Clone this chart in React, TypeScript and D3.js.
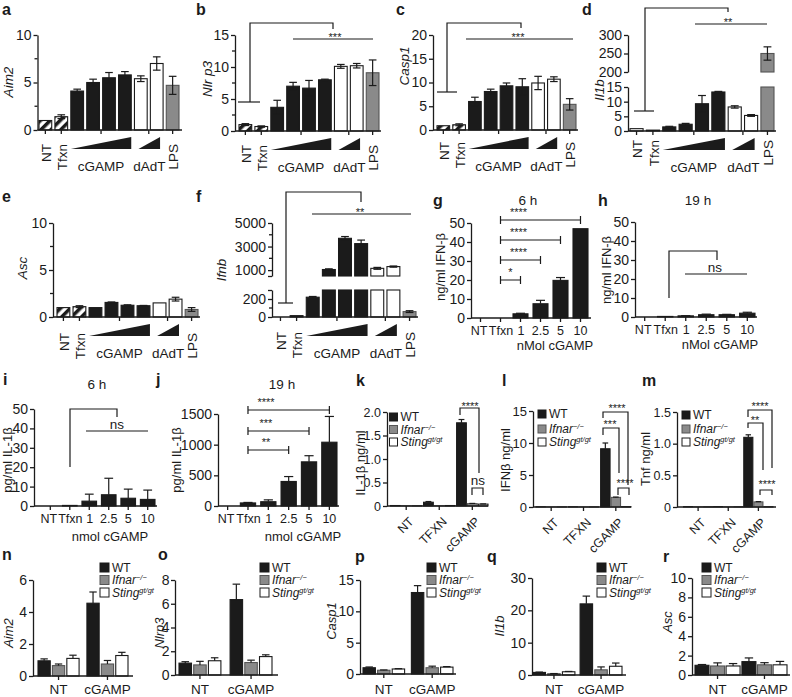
import React, { useEffect, useRef } from "react";
import * as d3 from "d3";

// ---------------- data ----------------
const doseCategories = ["NT", "Tfxn", "cGAMP 1", "cGAMP 2", "cGAMP 3", "cGAMP 4", "dAdT 1", "dAdT 2", "LPS"];
const doseFillsHatched = ["hatch", "hatch", "black", "black", "black", "black", "white", "white", "gray"];
const doseFillsPlain = ["white", "black", "black", "black", "black", "black", "white", "white", "gray"];

const aim2Values = [1.0, 1.4, 4.1, 5.0, 5.5, 5.8, 5.4, 7.0, 4.7];
const aim2Errors = [0, 0.2, 0.2, 0.35, 0.55, 0.35, 0.3, 0.7, 0.95];
const nlrp3Values = [1.0, 0.7, 3.7, 7.0, 6.7, 8.0, 10.1, 10.2, 9.1];
const nlrp3Errors = [0.15, 0.1, 1.1, 0.6, 1.2, 0.1, 0.3, 0.35, 2.0];
const casp1Values = [0.9, 1.1, 6.0, 8.1, 9.3, 9.1, 9.9, 10.7, 5.4];
const casp1Errors = [0, 0.2, 0.9, 0.5, 0.6, 1.7, 1.4, 0.5, 1.2];
const il1bValues = [0.8, 0.3, 1.4, 2.3, 9.3, 13.3, 8.2, 5.3, 250];
const il1bErrors = [0, 0, 0.2, 0.3, 2.8, 0.2, 0.4, 0.3, 18];
const ascValues = [1.0, 1.1, 1.0, 1.55, 1.25, 1.2, 1.5, 1.9, 0.8];
const ascErrors = [0, 0.1, 0, 0.05, 0.05, 0.03, 0, 0.2, 0.2];
const ifnbValues = [0, 15, 220, 1050, 3700, 3250, 1150, 1300, 60];
const ifnbErrors = [0, 0, 8, 60, 150, 300, 80, 50, 10];

const timeCategories = ["NT", "Tfxn", "1", "2.5", "5", "10"];
const ifnb6hValues = [0, 0, 2.2, 7.5, 19.8, 47];
const ifnb6hErrors = [0, 0, 0.3, 1.8, 1.5, 0];
const ifnb19hValues = [0, 0.3, 0.6, 1.2, 1.2, 2.0];
const ifnb19hErrors = [0, 0, 0.1, 0.3, 0.2, 0.5];
const il1b6hValues = [0, 0.3, 2.5, 5.8, 4.0, 3.4];
const il1b6hErrors = [0, 0, 3.6, 8.5, 4.7, 4.8];
const il1b19hValues = [0, 50, 70, 400, 720, 1040];
const il1b19hErrors = [0, 8, 30, 80, 100, 420];

const genotypes = ["WT", "Ifnar", "Sting"];
const genotypeFills = ["black", "gray", "white"];
const stimGroups = ["NT", "TFXN", "cGAMP"];
const rnaGroups = ["NT", "cGAMP"];

const il1bProtWT = [0.01, 0.08, 1.77];
const il1bProtWTErr = [0, 0.015, 0.07];
const il1bProtIfnar = [0.005, 0.005, 0.05];
const il1bProtIfnarErr = [0, 0, 0.005];
const il1bProtSting = [0.005, 0.01, 0.04];
const il1bProtStingErr = [0, 0, 0.005];

const ifnbProtWT = [0.03, 0.03, 9.1];
const ifnbProtWTErr = [0, 0, 0.9];
const ifnbProtIfnar = [0.02, 0.02, 1.5];
const ifnbProtIfnarErr = [0, 0, 0.05];
const ifnbProtSting = [0.02, 0.02, 0.05];
const ifnbProtStingErr = [0, 0, 0];

const tnfProtWT = [0.005, 0.005, 1.1];
const tnfProtWTErr = [0, 0, 0.04];
const tnfProtIfnar = [0.003, 0.003, 0.08];
const tnfProtIfnarErr = [0, 0, 0.005];
const tnfProtSting = [0.003, 0.003, 0.004];
const tnfProtStingErr = [0, 0, 0];

const aim2WT = [0.95, 4.55];
const aim2WTErr = [0.12, 0.7];
const aim2Ifnar = [0.65, 0.75];
const aim2IfnarErr = [0.1, 0.22];
const aim2Sting = [1.1, 1.28];
const aim2StingErr = [0.2, 0.2];

const nlrp3WT = [1.0, 6.35];
const nlrp3WTErr = [0.12, 1.3];
const nlrp3Ifnar = [0.85, 1.05];
const nlrp3IfnarErr = [0.3, 0.2];
const nlrp3Sting = [1.2, 1.55];
const nlrp3StingErr = [0.25, 0.15];

const casp1WT = [1.0, 13.0];
const casp1WTErr = [0.12, 1.1];
const casp1Ifnar = [0.6, 1.0];
const casp1IfnarErr = [0.05, 0.25];
const casp1Sting = [0.8, 1.1];
const casp1StingErr = [0.05, 0.08];

const il1bWT = [0.8, 22.0];
const il1bWTErr = [0.1, 2.4];
const il1bIfnar = [0.4, 1.6];
const il1bIfnarErr = [0.05, 0.9];
const il1bSting = [1.0, 2.7];
const il1bStingErr = [0.1, 1.0];

const ascWT = [1.0, 1.38];
const ascWTErr = [0.08, 0.38];
const ascIfnar = [0.93, 1.05];
const ascIfnarErr = [0.32, 0.22];
const ascSting = [0.93, 1.05];
const ascStingErr = [0.25, 0.35];

// ---------------- style ----------------
const W = 792;
const H = 697;
const FONT = "'Liberation Sans', Arial, Helvetica, sans-serif";
const INK = "#1b1b1b";
const GRAY_FILL = "#8a8a8a";
const GRAY_STROKE = "#555";

const fillOf = (f: string) => (f === "black" ? INK : f === "gray" ? GRAY_FILL : f === "white" ? "#fff" : "url(#hatch)");
const strokeOf = (f: string) => (f === "gray" ? GRAY_STROKE : INK);

function text(g: any, x: number, y: number, s: string, o: any = {}) {
  const t = g
    .append("text")
    .attr("x", x)
    .attr("y", y)
    .attr("font-family", FONT)
    .attr("font-size", o.size ?? 13)
    .attr("fill", INK)
    .attr("text-anchor", o.anchor ?? "middle");
  if (o.italic) t.attr("font-style", "italic");
  if (o.bold) t.attr("font-weight", "bold");
  t.text(s);
  return t;
}

function rotText(g: any, x: number, y: number, angle: number, s: string, o: any = {}) {
  const t = g
    .append("text")
    .attr("transform", `translate(${x},${y}) rotate(${angle})`)
    .attr("font-family", FONT)
    .attr("font-size", o.size ?? 13)
    .attr("fill", INK)
    .attr("text-anchor", o.anchor ?? "middle")
    .attr("dy", o.dy ?? "0.35em");
  if (o.italic) t.attr("font-style", "italic");
  t.text(s);
  return t;
}

function yAxis(g: any, scale: any, x: number, ticks: number[], fmt: any, o: any = {}) {
  const ax = d3
    .axisLeft(scale)
    .tickValues(ticks)
    .tickFormat(fmt)
    .tickSize(o.tickSize ?? 4)
    .tickPadding(o.pad ?? 2)
    .tickSizeOuter(0);
  const a = g.append("g").attr("transform", `translate(${x},0)`).call(ax);
  a.attr("font-family", FONT).attr("font-size", o.size ?? 14);
  a.select(".domain").attr("stroke", INK).attr("stroke-width", 1.3);
  a.selectAll(".tick line").attr("stroke", INK).attr("stroke-width", 1.3);
  a.selectAll(".tick text").attr("fill", INK);
  if (o.minor) {
    a.selectAll("line.minor")
      .data(o.minor)
      .join("line")
      .attr("class", "minor")
      .attr("x1", -3)
      .attr("x2", 0)
      .attr("y1", (d: number) => scale(d))
      .attr("y2", (d: number) => scale(d))
      .attr("stroke", INK)
      .attr("stroke-width", 1.3);
  }
}

function line(g: any, x1: number, y1: number, x2: number, y2: number, w = 1.2) {
  g.append("line")
    .attr("x1", x1)
    .attr("y1", y1)
    .attr("x2", x2)
    .attr("y2", y2)
    .attr("stroke", INK)
    .attr("stroke-width", w);
}

function pathD(g: any, d: string, w = 1.2) {
  g.append("path").attr("d", d).attr("fill", "none").attr("stroke", INK).attr("stroke-width", w);
}

function errBar(g: any, cx: number, yTop: number, yBot: number | null, yFrom: number, capW: number) {
  line(g, cx, yTop, cx, yBot ?? yFrom);
  line(g, cx - capW / 2, yTop, cx + capW / 2, yTop);
  if (yBot !== null) line(g, cx - capW / 2, yBot, cx + capW / 2, yBot);
}

function panelLetter(g: any, x: number, y: number, s: string) {
  text(g, x, y, s, { anchor: "start", bold: true, size: 16 });
}

function xAxisLine(g: any, x1: number, x2: number, y: number, ticks: number[]) {
  line(g, x1, y, x2, y, 1.3);
  ticks.forEach((t) => line(g, t, y, t, y + 4, 1.3));
}

// long bracket (control group -> treatment groups)
function longBracket(g: any, b: any) {
  if (b.hx1 !== undefined) pathD(g, `M${b.hx1},${b.hy}H${b.hx2}`);
  pathD(g, `M${b.vx},${b.vy}V${b.ytop}H${b.x2}V${b.ydrop}`);
  pathD(g, `M${b.lx1},${b.ly}H${b.lx2}`);
  text(g, b.tx, b.ty, b.label, { size: b.label === "ns" ? 13.5 : 11 });
}

function capBracket(g: any, x1: number, x2: number, y: number, label: string, tx: number) {
  pathD(g, `M${x1},${y}H${x2}M${x1},${y - 4}V${y + 4}M${x2},${y - 4}V${y + 4}`);
  text(g, tx, y - 4, label, { size: 11 });
}

function legBracket(g: any, b: any) {
  pathD(g, `M${b.x1},${b.yl}V${b.top}H${b.x2}V${b.yr}`);
  text(g, b.tx, b.ty, b.label, { size: b.label === "ns" ? 13.5 : 11 });
}

// ---------------- dose panels (a-f) ----------------
function dosePanel(root: any, o: any) {
  const g = root.append("g");
  const x = d3.scaleBand().domain(doseCategories).range([o.barL, o.barR]).paddingInner(0.2).paddingOuter(0);
  const bw = x.bandwidth();
  const cx = (c: string) => (x(c) as number) + bw / 2;
  const scales = o.segs.map((s: any) => d3.scaleLinear().domain(s.domain).range(s.range));

  o.values.forEach((v: number, i: number) => {
    const c = doseCategories[i];
    const bx = x(c) as number;
    const f = o.fills[i];
    o.segs.forEach((s: any, si: number) => {
      const sc = scales[si];
      const lo = s.domain[0];
      const hi = Math.min(v, s.domain[1]);
      if (hi <= lo) return;
      g.append("rect")
        .attr("x", bx)
        .attr("y", sc(hi))
        .attr("width", bw)
        .attr("height", sc(lo) - sc(hi))
        .attr("fill", fillOf(f))
        .attr("stroke", strokeOf(f))
        .attr("stroke-width", 1.1);
    });
    const e = o.errors[i];
    if (e > 0) {
      const si = o.segs.findIndex((s: any) => v >= s.domain[0] && v <= s.domain[1]);
      const s = o.segs[si];
      const sc = scales[si];
      errBar(g, cx(c), sc(v + e), sc(Math.max(v - e, s.domain[0])), sc(v), bw * 0.6);
    }
  });

  o.segs.forEach((s: any, si: number) =>
    yAxis(g, scales[si], o.axisX, s.ticks, s.fmt ?? ((d: number) => String(d)), { minor: s.minor })
  );

  const cg = (cx("cGAMP 2") + cx("cGAMP 3")) / 2;
  const dg = (cx("dAdT 1") + cx("dAdT 2")) / 2;
  xAxisLine(g, o.axisX, o.axisEnd, o.axisY, [cx("NT"), cx("Tfxn"), cg, dg, cx("LPS")]);

  const lt = o.axisY + (o.labelTop ?? 14);
  ["NT", "Tfxn", "LPS"].forEach((c) => rotText(g, cx(c) + 1, lt, -90, c, { anchor: "end", size: 13.5 }));

  const ty0 = o.axisY + 7;
  const ty1 = o.axisY + 19;
  const tri = (x0: number, x1: number) =>
    g
      .append("path")
      .attr("d", (d3.line() as any)([[x0, ty1], [x1, ty0], [x1, ty1]]) + "Z")
      .attr("fill", INK);
  const c0 = x("cGAMP 1") as number;
  const c1 = (x("cGAMP 4") as number) + bw;
  tri(c0, c1);
  const d0 = (x("dAdT 1") as number) + 4;
  const d1 = (x("dAdT 2") as number) + bw - 3;
  tri(d0, d1);
  text(g, (c0 + c1) / 2, o.axisY + 41, "cGAMP", { size: 13.5 });
  text(g, (d0 + d1) / 2, o.axisY + 41, "dAdT", { size: 13.5 });

  rotText(g, o.ylx, o.yly, -90, o.ylabel, { italic: true, size: 13.5 });
  if (o.bracket) longBracket(g, o.bracket);
}

// ---------------- time panels (g-j) ----------------
function timePanel(root: any, o: any) {
  const g = root.append("g");
  const x = d3.scaleBand().domain(timeCategories).range([o.barL, o.barR]).paddingInner(0.25).paddingOuter(0);
  const bw = x.bandwidth();
  const cx = (c: string) => (x(c) as number) + bw / 2;
  const y = d3.scaleLinear().domain(o.domain).range([o.axisY, o.top]);
  o.values.forEach((v: number, i: number) => {
    const c = timeCategories[i];
    if (v > 0) {
      g.append("rect")
        .attr("x", x(c))
        .attr("y", y(v))
        .attr("width", bw)
        .attr("height", y(0) - y(v))
        .attr("fill", INK)
        .attr("stroke", INK)
        .attr("stroke-width", 1.1);
    }
    const e = o.errors[i];
    if (e > 0) errBar(g, cx(c), y(v + e), null, y(v), bw * 0.6);
  });
  yAxis(g, y, o.axisX, o.ticks, (d: number) => String(d));
  xAxisLine(g, o.axisX, o.axisEnd, o.axisY, timeCategories.map(cx));
  const shift: Record<string, number> = { NT: -1.5, Tfxn: 0.5, "1": 0.5 };
  timeCategories.forEach((c) => text(g, cx(c) + (shift[c] ?? 0), o.axisY + 17, c, { size: 12.5 }));
  text(g, o.xlx, o.xly, o.xlabel, { size: 13 });
  text(g, o.tlx, o.tly, o.title, { size: 13.5 });
  rotText(g, o.ylx, o.yly, -90, o.ylabel, { size: 13 });
  (o.caps ?? []).forEach((b: any) => {
    const x1 = cx(b.from);
    const x2 = cx(b.to);
    capBracket(g, x1, x2, b.y, b.label, Math.min((x1 + x2) / 2, x1 + 18));
  });
  if (o.bracket) longBracket(g, o.bracket);
}

// ---------------- genotype panels (k-r) ----------------
function legend(g: any, x: number, ys: number[], size: number, fs: number) {
  genotypes.forEach((gt, i) => {
    const f = genotypeFills[i];
    g.append("rect")
      .attr("x", x)
      .attr("y", ys[i] - size / 2)
      .attr("width", size)
      .attr("height", size)
      .attr("fill", fillOf(f))
      .attr("stroke", strokeOf(f))
      .attr("stroke-width", 1);
    const t = g
      .append("text")
      .attr("x", x + size + 3)
      .attr("y", ys[i] + fs * 0.36)
      .attr("font-family", FONT)
      .attr("font-size", fs)
      .attr("fill", INK);
    if (gt === "WT") t.text("WT");
    else if (gt === "Ifnar") {
      t.append("tspan").attr("font-style", "italic").text("Ifnar");
      t.append("tspan").attr("font-style", "italic").attr("font-size", fs * 0.62).attr("dy", -4).text("−/−");
    } else {
      t.append("tspan").attr("font-style", "italic").text("Sting");
      t.append("tspan").attr("font-style", "italic").attr("font-size", fs * 0.62).attr("dy", -4).text("gt/gt");
    }
  });
}

function genoPanel(root: any, o: any) {
  const g = root.append("g");
  const xg = d3.scaleBand().domain(o.groups).range([o.gL, o.gR]).paddingInner(o.gPad).paddingOuter(0);
  const xi = d3.scaleBand().domain(genotypes).range([0, xg.bandwidth()]).paddingInner(o.iPad ?? 0.12);
  const bw = xi.bandwidth();
  const y = d3.scaleLinear().domain(o.domain).range([o.axisY, o.top]);
  o.series.forEach((ser: any, si: number) => {
    const f = genotypeFills[si];
    ser.values.forEach((v: number, gi: number) => {
      const bx = (xg(o.groups[gi]) as number) + (xi(genotypes[si]) as number);
      g.append("rect")
        .attr("x", bx)
        .attr("y", y(v))
        .attr("width", bw)
        .attr("height", Math.max(0, y(0) - y(v)))
        .attr("fill", fillOf(f))
        .attr("stroke", strokeOf(f))
        .attr("stroke-width", 1.1);
      const e = ser.errors[gi];
      if (e > 0) errBar(g, bx + bw / 2, y(v + e), null, y(v), bw * 0.6);
    });
  });
  yAxis(g, y, o.axisX, o.ticks, o.fmt ?? ((d: number) => String(d)), { size: o.tickFont ?? 14, pad: o.tickPad ?? 2 });
  const gc = (c: string) => (xg(c) as number) + xg.bandwidth() / 2;
  xAxisLine(g, o.axisX, o.axisEnd, o.axisY, o.groups.map(gc));
  if (o.rotLabels) {
    o.groups.forEach((c: string) => rotText(g, gc(c) + 2, o.axisY + 10, -45, c, { anchor: "end", dy: "0.71em", size: 12.5 }));
  } else {
    o.groups.forEach((c: string) => text(g, gc(c), o.labelY, c, { size: 13.5 }));
  }
  legend(g, o.legX, o.legY, o.legSize, o.legFont ?? 12);
  rotText(g, o.ylx, o.yly, -90, o.ylabel, { italic: o.yItalic, size: 13 });
  (o.brackets ?? []).forEach((b: any) => legBracket(g, b));
}

export default function App() {
  const ref = useRef<SVGSVGElement>(null);
  useEffect(() => {
    const svg = d3.select(ref.current);
    svg.selectAll("*").remove();
    const defs = svg.append("defs");
    const pat = defs
      .append("pattern")
      .attr("id", "hatch")
      .attr("patternUnits", "userSpaceOnUse")
      .attr("width", 7)
      .attr("height", 7)
      .attr("patternTransform", "rotate(45)");
    pat.append("rect").attr("width", 7).attr("height", 7).attr("fill", "#fff");
    pat.append("rect").attr("width", 3.5).attr("height", 7).attr("fill", INK);
    const root = svg.append("g");

    // letters
    panelLetter(root, 2, 15, "a");
    panelLetter(root, 196, 15, "b");
    panelLetter(root, 396, 15, "c");
    panelLetter(root, 582, 15, "d");
    panelLetter(root, 2, 202, "e");
    panelLetter(root, 196, 202, "f");
    panelLetter(root, 433, 206, "g");
    panelLetter(root, 598, 206, "h");
    panelLetter(root, 3, 385, "i");
    panelLetter(root, 156, 385, "j");
    panelLetter(root, 356, 386, "k");
    panelLetter(root, 502, 386, "l");
    panelLetter(root, 642, 386, "m");
    panelLetter(root, 2, 560, "n");
    panelLetter(root, 158, 560, "o");
    panelLetter(root, 355, 562, "p");
    panelLetter(root, 487, 562, "q");
    panelLetter(root, 663, 562, "r");

    // a
    dosePanel(root, {
      axisX: 37.5, axisY: 130, axisEnd: 182, barL: 39, barR: 179,
      segs: [{ domain: [0, 10], range: [130, 35], ticks: [0, 5, 10], minor: [2.5, 7.5] }],
      values: aim2Values, errors: aim2Errors, fills: doseFillsHatched,
      ylabel: "Aim2", ylx: 8, yly: 82,
    });
    // b
    dosePanel(root, {
      axisX: 235, axisY: 131, axisEnd: 381, barL: 239, barR: 379,
      segs: [{ domain: [0, 15], range: [131, 35], ticks: [0, 5, 10, 15], minor: [2.5, 7.5, 12.5] }],
      values: nlrp3Values, errors: nlrp3Errors, fills: doseFillsHatched,
      ylabel: "Nlr p3", ylx: 207, yly: 79,
      bracket: { hx1: 238, hx2: 260, hy: 102, vx: 250, vy: 102, ytop: 23, x2: 333, ydrop: 29, lx1: 293, lx2: 373, ly: 39, label: "***", tx: 335, ty: 41 },
    });
    // c
    dosePanel(root, {
      axisX: 433, axisY: 130, axisEnd: 578, barL: 437, barR: 576,
      segs: [{ domain: [0, 20], range: [130, 35], ticks: [0, 5, 10, 15, 20] }],
      values: casp1Values, errors: casp1Errors, fills: doseFillsHatched,
      ylabel: "Casp1", ylx: 404, yly: 66, labelTop: 12,
      bracket: { hx1: 437, hx2: 457, hy: 92, vx: 447, vy: 92, ytop: 23, x2: 521, ydrop: 28, lx1: 466, lx2: 573, ly: 39, label: "***", tx: 518, ty: 41 },
    });
    // d
    dosePanel(root, {
      axisX: 628, axisY: 131, axisEnd: 776, barL: 630, barR: 774,
      segs: [
        { domain: [0, 15], range: [131, 87], ticks: [0, 5, 10, 15] },
        { domain: [200, 300], range: [72, 35], ticks: [200, 250, 300] },
      ],
      values: il1bValues, errors: il1bErrors, fills: doseFillsPlain,
      ylabel: "Il1b", ylx: 599, yly: 90, labelTop: 9,
      bracket: { hx1: 634, hx2: 654, hy: 111, vx: 645, vy: 111, ytop: 8, x2: 728, ydrop: 12, lx1: 695, lx2: 767, ly: 24, label: "**", tx: 728, ty: 26 },
    });
    // e
    dosePanel(root, {
      axisX: 53, axisY: 317, axisEnd: 200, barL: 57, barR: 198,
      segs: [{ domain: [0, 10], range: [317, 223], ticks: [0, 5, 10], minor: [2.5, 7.5] }],
      values: ascValues, errors: ascErrors, fills: doseFillsHatched,
      ylabel: "Asc", ylx: 22, yly: 268, labelTop: 16,
    });
    // f
    dosePanel(root, {
      axisX: 272, axisY: 317, axisEnd: 418, barL: 274, barR: 416,
      segs: [
        { domain: [0, 300], range: [317, 290], ticks: [0, 200, 300], minor: [100], fmt: (d: number) => (d === 300 ? "" : String(d)) },
        { domain: [500, 5000], range: [276, 223], ticks: [500, 1000, 3000, 5000], minor: [2000, 4000], fmt: (d: number) => (d === 500 ? "" : String(d)) },
      ],
      values: ifnbValues, errors: ifnbErrors, fills: doseFillsPlain,
      ylabel: "Ifnb", ylx: 221, yly: 270, labelTop: 15,
      bracket: { hx1: 278, hx2: 293, hy: 303, vx: 286, vy: 303, ytop: 192, x2: 361, ydrop: 202, lx1: 312, lx2: 411, ly: 214, label: "**", tx: 360, ty: 216 },
    });

    // g
    timePanel(root, {
      axisX: 471, axisY: 318, top: 223, axisEnd: 591, barL: 473, barR: 588,
      domain: [0, 50], ticks: [0, 10, 20, 30, 40, 50],
      values: ifnb6hValues, errors: ifnb6hErrors,
      title: "6 h", tlx: 528, tly: 205,
      ylabel: "ng/ml  IFN-β", ylx: 440, yly: 267,
      xlabel: "nMol cGAMP", xlx: 555, xly: 350,
      caps: [
        { from: "Tfxn", to: "1", y: 280, label: "*" },
        { from: "Tfxn", to: "2.5", y: 260, label: "****" },
        { from: "Tfxn", to: "5", y: 240, label: "****" },
        { from: "Tfxn", to: "10", y: 220, label: "****" },
      ],
    });
    // h
    timePanel(root, {
      axisX: 635, axisY: 317, top: 222, axisEnd: 757, barL: 637, barR: 755,
      domain: [0, 50], ticks: [0, 10, 20, 30, 40, 50],
      values: ifnb19hValues, errors: ifnb19hErrors,
      title: "19 h", tlx: 698, tly: 205,
      ylabel: "ng/ml  IFN-β", ylx: 606, yly: 270,
      xlabel: "nMol cGAMP", xlx: 720, xly: 349,
      bracket: { vx: 669, vy: 298, ytop: 251, x2: 717, ydrop: 260, lx1: 685, lx2: 747, ly: 274, label: "ns", tx: 715, ty: 272 },
    });
    // i
    timePanel(root, {
      axisX: 34, axisY: 506, top: 409, axisEnd: 157, barL: 43, barR: 155,
      domain: [0, 50], ticks: [0, 10, 20, 30, 40, 50],
      values: il1b6hValues, errors: il1b6hErrors,
      title: "6 h", tlx: 97, tly: 389,
      ylabel: "pg/ml IL-1β", ylx: 7, yly: 460,
      xlabel: "nmol cGAMP", xlx: 110, xly: 541,
      bracket: { vx: 70, vy: 467, ytop: 409, x2: 117, ydrop: 417, lx1: 86, lx2: 148, ly: 431, label: "ns", tx: 117, ty: 429 },
    });
    // j
    timePanel(root, {
      axisX: 218, axisY: 506, top: 414, axisEnd: 339, barL: 220, barR: 337,
      domain: [0, 1500], ticks: [0, 500, 1000, 1500],
      values: il1b19hValues, errors: il1b19hErrors,
      title: "19 h", tlx: 282, tly: 389,
      ylabel: "pg/ml IL-1β", ylx: 176, yly: 460,
      xlabel: "nmol cGAMP", xlx: 303, xly: 541,
      caps: [
        { from: "Tfxn", to: "2.5", y: 450, label: "**" },
        { from: "Tfxn", to: "5", y: 431, label: "***" },
        { from: "Tfxn", to: "10", y: 410, label: "****" },
      ],
    });

    const fmt1 = (d: number) => (d === 0 ? "0" : d.toFixed(1));
    // k
    genoPanel(root, {
      groups: stimGroups, gL: 390.5, gR: 488, gPad: 0.05, iPad: 0.1,
      axisX: 387, axisY: 506, top: 412, axisEnd: 488, domain: [0, 2], ticks: [0, 0.5, 1, 1.5, 2], fmt: fmt1, tickFont: 12.5,
      series: [
        { values: il1bProtWT, errors: il1bProtWTErr },
        { values: il1bProtIfnar, errors: il1bProtIfnarErr },
        { values: il1bProtSting, errors: il1bProtStingErr },
      ],
      rotLabels: true, legX: 389.5, legY: [417, 429.5, 442], legSize: 8, legFont: 12,
      ylabel: "IL-1β ng/ml", ylx: 360, yly: 463,
      brackets: [
        { x1: 460, x2: 479, yl: 415, top: 408, yr: 473, label: "****", tx: 470, ty: 410 },
        { x1: 472, x2: 483, yl: 495, top: 488, yr: 495, label: "ns", tx: 478, ty: 485 },
      ],
    });
    // l
    genoPanel(root, {
      groups: stimGroups, gL: 536, gR: 631, gPad: 0.06, iPad: 0.1,
      axisX: 533, axisY: 507, top: 411, axisEnd: 631, domain: [0, 15], ticks: [0, 5, 10, 15], tickFont: 13,
      series: [
        { values: ifnbProtWT, errors: ifnbProtWTErr },
        { values: ifnbProtIfnar, errors: ifnbProtIfnarErr },
        { values: ifnbProtSting, errors: ifnbProtStingErr },
      ],
      rotLabels: true, legX: 538, legY: [414, 429, 442], legSize: 8, legFont: 12,
      ylabel: "IFNβ ng/ml", ylx: 505, yly: 460,
      brackets: [
        { x1: 603, x2: 628, yl: 418, top: 412, yr: 485, label: "****", tx: 617, ty: 412 },
        { x1: 603, x2: 619, yl: 435, top: 428, yr: 473, label: "***", tx: 610, ty: 428 },
        { x1: 618, x2: 629, yl: 495, top: 488, yr: 495, label: "****", tx: 625, ty: 487 },
      ],
    });
    // m
    genoPanel(root, {
      groups: stimGroups, gL: 683.5, gR: 773, gPad: 0.03, iPad: 0.1,
      axisX: 677, axisY: 507, top: 412, axisEnd: 776, domain: [0, 1.5], ticks: [0, 0.5, 1, 1.5], fmt: fmt1, tickFont: 12.5,
      series: [
        { values: tnfProtWT, errors: tnfProtWTErr },
        { values: tnfProtIfnar, errors: tnfProtIfnarErr },
        { values: tnfProtSting, errors: tnfProtStingErr },
      ],
      rotLabels: true, legX: 682, legY: [415, 429, 442], legSize: 8, legFont: 12,
      ylabel: "Tnf ng/ml", ylx: 645, yly: 459,
      brackets: [
        { x1: 748, x2: 772, yl: 417, top: 410, yr: 468, label: "****", tx: 760, ty: 410 },
        { x1: 748, x2: 763, yl: 428, top: 423, yr: 470, label: "**", tx: 755, ty: 424 },
        { x1: 760, x2: 772, yl: 495, top: 490, yr: 495, label: "****", tx: 767, ty: 488 },
      ],
    });

    const rowLeg = [567.5, 580, 592.5];
    // n
    genoPanel(root, {
      groups: rnaGroups, gL: 38, gR: 128, gPad: 0.16, iPad: 0.15,
      axisX: 33, axisY: 676, top: 580, axisEnd: 133, domain: [0, 6], ticks: [0, 2, 4, 6],
      series: [
        { values: aim2WT, errors: aim2WTErr },
        { values: aim2Ifnar, errors: aim2IfnarErr },
        { values: aim2Sting, errors: aim2StingErr },
      ],
      labelY: 694, legX: 100, legY: rowLeg, legSize: 9, legFont: 12,
      ylabel: "Aim2", yItalic: true, ylx: 8, yly: 633,
    });
    // o
    genoPanel(root, {
      groups: rnaGroups, gL: 179, gR: 272, gPad: 0.18, iPad: 0.15,
      axisX: 175, axisY: 675, top: 580, axisEnd: 278, domain: [0, 8], ticks: [0, 2, 4, 6, 8], tickPad: 1.5,
      series: [
        { values: nlrp3WT, errors: nlrp3WTErr },
        { values: nlrp3Ifnar, errors: nlrp3IfnarErr },
        { values: nlrp3Sting, errors: nlrp3StingErr },
      ],
      labelY: 694, legX: 260, legY: rowLeg, legSize: 9, legFont: 12,
      ylabel: "Nlrp3", yItalic: true, ylx: 159, yly: 633,
    });
    // p
    genoPanel(root, {
      groups: rnaGroups, gL: 363, gR: 453, gPad: 0.14, iPad: 0.15,
      axisX: 360, axisY: 674, top: 580, axisEnd: 456, domain: [0, 15], ticks: [0, 5, 10, 15],
      series: [
        { values: casp1WT, errors: casp1WTErr },
        { values: casp1Ifnar, errors: casp1IfnarErr },
        { values: casp1Sting, errors: casp1StingErr },
      ],
      labelY: 694, legX: 427, legY: rowLeg, legSize: 9, legFont: 12,
      ylabel: "Casp1", yItalic: true, ylx: 331, yly: 621,
    });
    // q
    genoPanel(root, {
      groups: rnaGroups, gL: 533, gR: 622, gPad: 0.11, iPad: 0.15,
      axisX: 532, axisY: 675, top: 578, axisEnd: 626, domain: [0, 30], ticks: [0, 10, 20, 30],
      series: [
        { values: il1bWT, errors: il1bWTErr },
        { values: il1bIfnar, errors: il1bIfnarErr },
        { values: il1bSting, errors: il1bStingErr },
      ],
      labelY: 694, legX: 597, legY: rowLeg, legSize: 9, legFont: 12,
      ylabel: "Il1b", yItalic: true, ylx: 499, yly: 626,
    });
    // r
    genoPanel(root, {
      groups: rnaGroups, gL: 695, gR: 787, gPad: 0.04, iPad: 0.1,
      axisX: 692, axisY: 675, top: 578, axisEnd: 790, domain: [0, 10], ticks: [0, 2, 4, 6, 8, 10],
      series: [
        { values: ascWT, errors: ascWTErr },
        { values: ascIfnar, errors: ascIfnarErr },
        { values: ascSting, errors: ascStingErr },
      ],
      labelY: 694, legX: 702, legY: rowLeg, legSize: 9, legFont: 12,
      ylabel: "Asc", yItalic: true, ylx: 667, yly: 622,
    });
  }, []);
  return (
    <svg
      ref={ref}
      width={W}
      height={H}
      viewBox={`0 0 ${W} ${H}`}
      style={{ position: "absolute", left: 0, top: 0, background: "#fff" }}
    />
  );
}
